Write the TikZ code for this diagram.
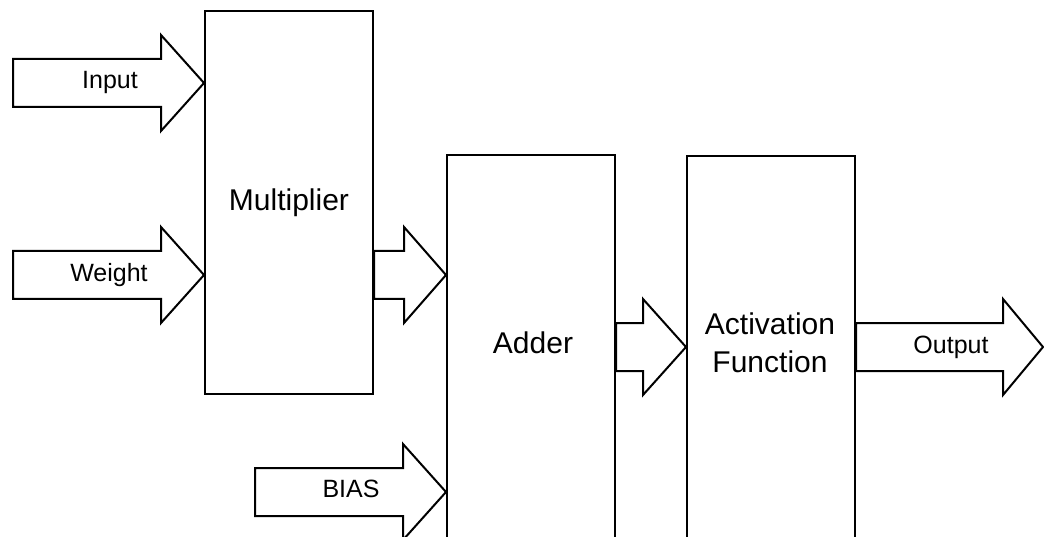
\documentclass[tikz,border=0pt]{standalone}
\usepackage{fontspec}
\setmainfont{Liberation Sans}
\usetikzlibrary{calc}
\tikzset{
  blk/.style={draw, line width=2pt, minimum width=168pt, inner sep=0pt},
  barrow/.style={draw, line width=2pt, line join=miter},
  small/.style={font=\fontsize{25}{30}\selectfont, inner sep=0pt, anchor=base},
  big/.style={font=\fontsize{30}{38}\selectfont, inner sep=0pt, align=center},
}
% #1 tail point, #2 tip point, #3 head length (pt)
\newcommand\blockarrow[3]{%
  \draw[barrow] let \p1=(#1), \p2=(#2) in
    (\x1,\y2+24pt) -- (\x2-#3pt,\y2+24pt) -- (\x2-#3pt,\y2+48pt) -- (\x2,\y2)
    -- (\x2-#3pt,\y2-48pt) -- (\x2-#3pt,\y2-24pt) -- (\x1,\y2-24pt) -- cycle;}
\begin{document}
\begin{tikzpicture}[x=1pt,y=-1pt]
\useasboundingbox (0,0) rectangle (1044,537);
\fill[white] (0,0) rectangle (1044,537);
\clip (0,0) rectangle (1044,537);

% boxes
\node[blk, big, minimum height=383pt] (mul) at (289,202.5) {Multiplier};
\node[blk, minimum height=400pt] (add) at (531,355) {};
\node[blk, minimum height=400pt] (act) at (771,356) {};
\node[big] (addT) at (533,353) [anchor=base] {Adder};
\node[big] (actT) at (770,343) {Activation\\Function};

% arrow anchor points
\coordinate (inT) at (13,83);
\coordinate (wT) at (13,275);
\coordinate (bT) at (255,492);
\coordinate (oT) at (1043,347);

% block arrows
\blockarrow{inT}{mul.west |- inT}{43}
\blockarrow{wT}{mul.west |- wT}{43}
\blockarrow{mul.east |- wT}{add.west |- wT}{42}
\blockarrow{bT}{add.west |- bT}{43}
\blockarrow{add.east |- oT}{act.west |- oT}{43}
\blockarrow{act.east |- oT}{oT}{40}

% arrow labels
\node[small] (inL) at (110,89) {Input};
\node[small] (wL) at (109,282) {Weight};
\node[small] (bL) at (351,497) {BIAS};
\node[small] (oL) at (951,353) {Output};
\end{tikzpicture}
\end{document}
